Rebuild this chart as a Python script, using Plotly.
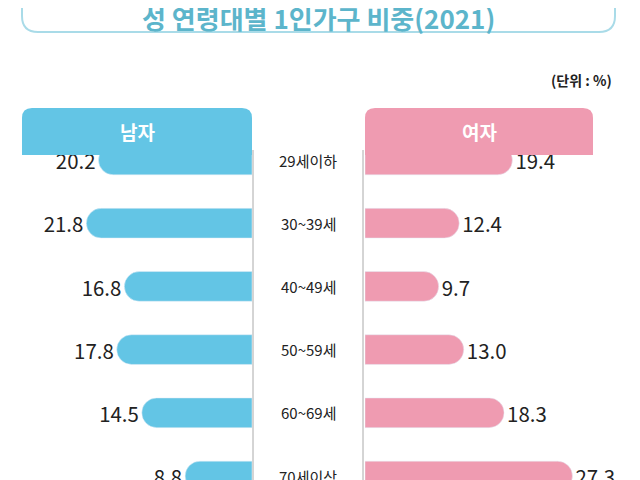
import plotly.graph_objects as go

ages = ["29세이하", "30~39세", "40~49세", "50~59세", "60~69세", "70세이상"]
male = [20.2, 21.8, 16.8, 17.8, 14.5, 8.8]
female = [19.4, 12.4, 9.7, 13.0, 18.3, 27.3]

W, H = 640, 480
OFF = 8  # page body margin
BLUE = "#63c5e5"
PINK = "#ef9bb1"
FONT = "Noto Sans CJK KR"

def px(x): return (x - OFF) / W
def py(y): return 1 - (y - OFF) / H

def rrect(x0, y0, x1, y1, r, top_only=False):
    X = lambda v: f"{px(v):.5f}"
    Y = lambda v: f"{py(v):.5f}"
    if top_only:
        return (f"M{X(x0)},{Y(y1)} L{X(x0)},{Y(y0+r)} Q{X(x0)},{Y(y0)} {X(x0+r)},{Y(y0)} "
                f"L{X(x1-r)},{Y(y0)} Q{X(x1)},{Y(y0)} {X(x1)},{Y(y0+r)} L{X(x1)},{Y(y1)} Z")
    return (f"M{X(x0+r)},{Y(y0)} L{X(x1-r)},{Y(y0)} Q{X(x1)},{Y(y0)} {X(x1)},{Y(y0+r)} "
            f"L{X(x1)},{Y(y1-r)} Q{X(x1)},{Y(y1)} {X(x1-r)},{Y(y1)} L{X(x0+r)},{Y(y1)} "
            f"Q{X(x0)},{Y(y1)} {X(x0)},{Y(y1-r)} L{X(x0)},{Y(y0+r)} Q{X(x0)},{Y(y0)} {X(x0+r)},{Y(y0)} Z")

yidx = list(range(len(ages)))
fig = go.Figure()
fig.add_trace(go.Bar(x=male, y=yidx, orientation="h", marker=dict(color=BLUE, cornerradius=15),
                     width=0.47, text=[f"{v:.1f}" for v in male], textposition="outside",
                     textfont=dict(size=22, color="#222", family=FONT), cliponaxis=False,
                     xaxis="x", yaxis="y"))
fig.add_trace(go.Bar(x=female, y=yidx, orientation="h", marker=dict(color=PINK, cornerradius=15),
                     width=0.47, text=[f"{v:.1f}" for v in female], textposition="outside",
                     textfont=dict(size=22, color="#222", family=FONT), cliponaxis=False,
                     xaxis="x2", yaxis="y"))

PXU = 7.6
LR = 252
RL = 365
RR = 640
yr = [5 + (480 - 476) / 63.2, -(160 - 140) / 63.2]
fig.update_layout(
    width=W, height=H, margin=dict(l=0, r=0, t=0, b=0),
    paper_bgcolor="white", plot_bgcolor="rgba(0,0,0,0)", showlegend=False,
    font=dict(family=FONT),
    xaxis=dict(domain=[0, px(LR)], range=[(LR - OFF) / PXU, 0], visible=False),
    xaxis2=dict(domain=[px(RL), px(RR)], range=[0, (RR - RL) / PXU], visible=False),
    yaxis=dict(domain=[py(480), py(140)], range=yr, visible=False),
)

shapes = [
    dict(type="path", path=rrect(22, -20, 615, 32, 16), xref="paper", yref="paper",
         line=dict(color="#a9dbe8", width=2), fillcolor="white", layer="below"),
    dict(type="path", path=rrect(22, 108, 252, 155, 10, top_only=True), xref="paper", yref="paper",
         line=dict(width=0), fillcolor=BLUE),
    dict(type="path", path=rrect(365, 108, 593, 155, 10, top_only=True), xref="paper", yref="paper",
         line=dict(width=0), fillcolor=PINK),
    dict(type="line", x0=px(253), x1=px(253), y0=py(150), y1=py(480), xref="paper", yref="paper",
         line=dict(color="#aaaaaa", width=1)),
    dict(type="line", x0=px(363), x1=px(363), y0=py(150), y1=py(480), xref="paper", yref="paper",
         line=dict(color="#aaaaaa", width=1)),
]
def ann(text, x, y, size, color, bold=False, xanchor="center", yref="paper"):
    return dict(text=text, x=px(x), y=(py(y) if yref == "paper" else y), xref="paper", yref=yref,
                xanchor=xanchor, yanchor="middle", showarrow=False,
                font=dict(size=size, color=color, family=FONT, weight="bold" if bold else "normal"))
anns = [
    ann("성 연령대별 1인가구 비중(2021)", 318, 17, 26, "#5cb5cb", bold=True),
    ann("(단위 : %)", 614, 80, 14, "#222", bold=True, xanchor="right"),
    ann("남자", 137, 132, 19, "white", bold=True),
    ann("여자", 479, 132, 19, "white", bold=True),
]
for i, a in enumerate(ages):
    anns.append(ann(a, 308, i, 15, "#222", yref="y"))
fig.update_layout(shapes=shapes, annotations=anns)
fig.write_html("out.html")
